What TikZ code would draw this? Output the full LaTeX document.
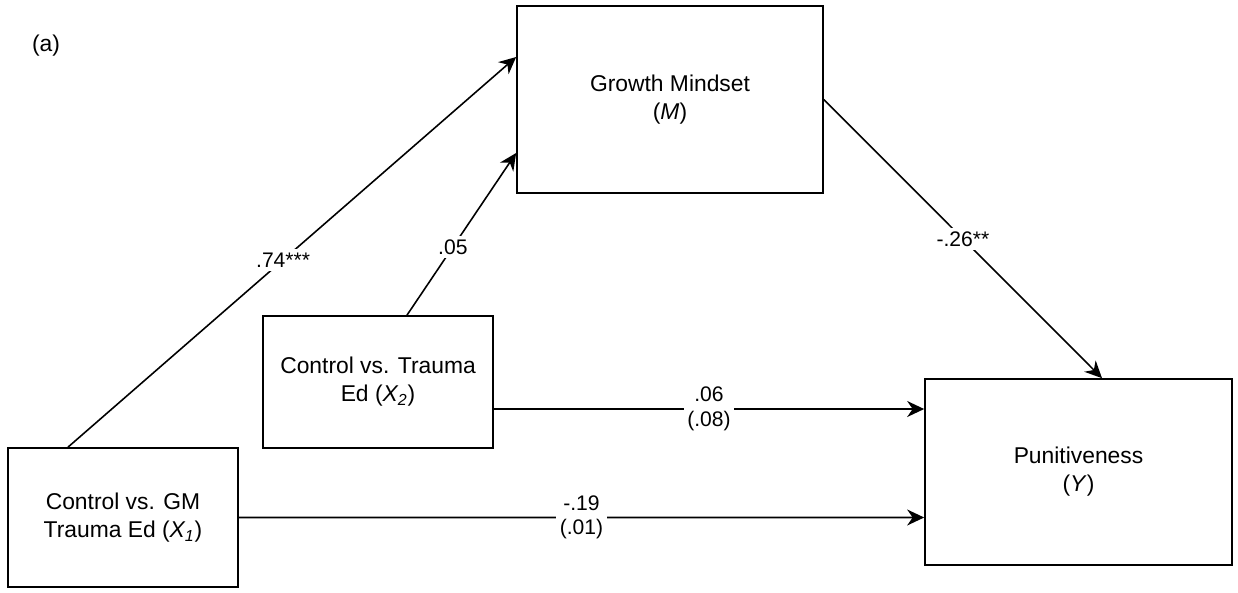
\documentclass[tikz,border=0pt]{standalone}
\usepackage{fontspec}
\setmainfont{Liberation Sans}
\usetikzlibrary{arrows.meta}

\begin{document}
\begin{tikzpicture}[
        x=0.02cm, y=-0.02cm,
        font=\fontsize{13}{16}\selectfont,
        block/.style={rectangle, draw, line width=1pt, align=center,
            inner sep=0pt},
        line/.style={draw, -{Stealth[length=3.4mm, width=3.2mm, inset=1.1mm]}, line width=0.9pt},
        coef/.style={fill=white, inner sep=2pt, align=center,
            font=\fontsize{12}{14}\selectfont}
    ]
    \useasboundingbox (0,0) rectangle (1238,592);
    \node (lab) at (46,46) {(a)};

    \node [block, minimum width=6.12cm, minimum height=3.74cm] (gm) at (670,99.5)
        {Growth Mindset\\(\textit{M})};
    \node [block, minimum width=4.6cm, minimum height=2.64cm] (x2) at (378,382)
        {Control vs. Trauma\\Ed (\textit{X\textsubscript{2}})};
    \node [block, minimum width=4.6cm, minimum height=2.78cm] (x1) at (123,517.5)
        {Control vs. GM\\Trauma Ed (\textit{X\textsubscript{1}})};
    \node [block, minimum width=6.14cm, minimum height=3.72cm] (pun) at (1078.5,472)
        {Punitiveness\\(\textit{Y})};

    \path [line] ([xshift=-1.1cm]x1.north) -- ([yshift=0.85cm]gm.west)
        node [coef, pos=0.48] {.74***};
    \path [line] ([xshift=0.58cm]x2.north) -- ([yshift=-1.07cm]gm.west)
        node [coef, pos=0.42] {.05};
    \path [line] (gm.east) -- ([xshift=0.47cm]pun.north)
        node [coef, pos=0.5] {-.26**};
    \path [line] ([yshift=-0.54cm]x2.east) -- ([yshift=1.26cm]pun.west)
        node [coef, pos=0.5] {.06\\(.08)};
    \path [line] (x1.east) -- ([yshift=-0.91cm]pun.west)
        node [coef, pos=0.5] {-.19\\(.01)};
\end{tikzpicture}
\end{document}
